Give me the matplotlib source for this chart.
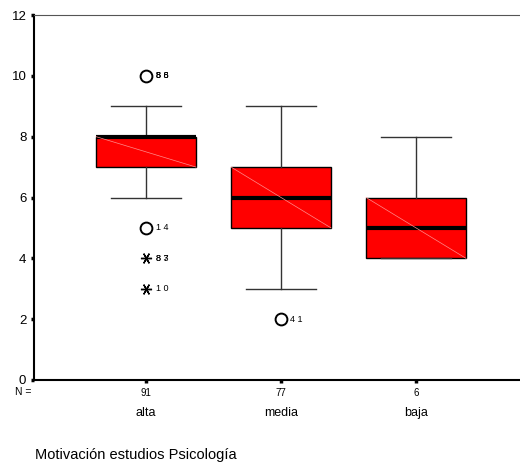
import matplotlib

matplotlib.use("Agg")
import matplotlib.pyplot as plt
from matplotlib.transforms import blended_transform_factory

plt.rcParams["font.family"] = ["Liberation Sans", "DejaVu Sans"]

# data
groups = ["alta", "media", "baja"]
counts = [91, 77, 6]
whisk_lo = [6, 3, 4]
q1 = [7, 5, 4]
median = [8, 6, 5]
q3 = [8, 7, 6]
whisk_hi = [9, 9, 8]

# outliers: group index, value, kind, case labels
out_group = [0, 0, 0, 0, 1]
out_value = [10, 5, 4, 3, 2]
out_kind = ["o", "o", "*", "*", "o"]
out_labels = [["86", "88", "56"], ["14"], ["87", "83"], ["10"], ["41"]]

yticks = [0, 2, 4, 6, 8, 10, 12]
title = "Motivación estudios Psicología"

fig = plt.figure(figsize=(5.2, 4.66), dpi=100)
ax = fig.add_axes([34 / 520, 1 - 380 / 466, 486 / 520, 365 / 466])

positions = [1, 2, 3]
stats = []
for i, g in enumerate(groups):
    stats.append(dict(label=g, whislo=whisk_lo[i], q1=q1[i], med=median[i],
                      q3=q3[i], whishi=whisk_hi[i], fliers=[]))

box_w = 0.74
ax.bxp(stats, positions=positions, widths=box_w, capwidths=0.52,
       patch_artist=True, showfliers=False,
       boxprops=dict(facecolor="#ff0000", edgecolor="#000000", linewidth=1.0),
       medianprops=dict(color="#000000", linewidth=3.0),
       whiskerprops=dict(color="#333333", linewidth=1.0),
       capprops=dict(color="#333333", linewidth=1.0), zorder=2)

# faint diagonal inside each box
for i, p in enumerate(positions):
    ax.plot([p - box_w / 2, p + box_w / 2], [q3[i], q1[i]],
            color="#ff8c8c", linewidth=0.5, zorder=2.5)

for g, v, k, labs in zip(out_group, out_value, out_kind, out_labels):
    x = positions[g]
    if k == "o":
        ax.plot(x, v, marker="o", markersize=8.5, markerfacecolor="white",
                markeredgecolor="black", markeredgewidth=1.4, zorder=4)
    else:
        ax.plot(x, v, marker=(6, 2, 90), markersize=8, color="black",
                markeredgewidth=1.0, zorder=4)
    for lab in labs:
        ax.text(x + 0.07, v, " ".join(lab), fontsize=6.5, va="center",
                ha="left", zorder=5)

ax.set_xlim(0.17, 3.77)
ax.set_ylim(0, 12)
ax.set_yticks(yticks)
ax.set_yticklabels([str(t) for t in yticks], fontsize=9.5)
ax.set_xticks(positions)
ax.set_xticklabels([str(c) for c in counts], fontsize=7)
ax.tick_params(axis="both", length=2.5, width=2.5, color="black", pad=3)

ax.spines["right"].set_visible(False)
ax.spines["top"].set_color("#555555")
ax.spines["left"].set_linewidth(1.5)
ax.spines["bottom"].set_linewidth(1.5)

trans = blended_transform_factory(ax.transData, fig.transFigure)
for p, g in zip(positions, groups):
    ax.text(p, 1 - 413 / 466, g, transform=trans, fontsize=9,
            ha="center", va="center")
fig.text(31 / 520, 1 - 392 / 466, "N =", fontsize=7.5, ha="right", va="center")
fig.text(35 / 520, 1 - 455 / 466, title, fontsize=10.5, ha="left", va="center")

fig.savefig("out.png", dpi=100)
